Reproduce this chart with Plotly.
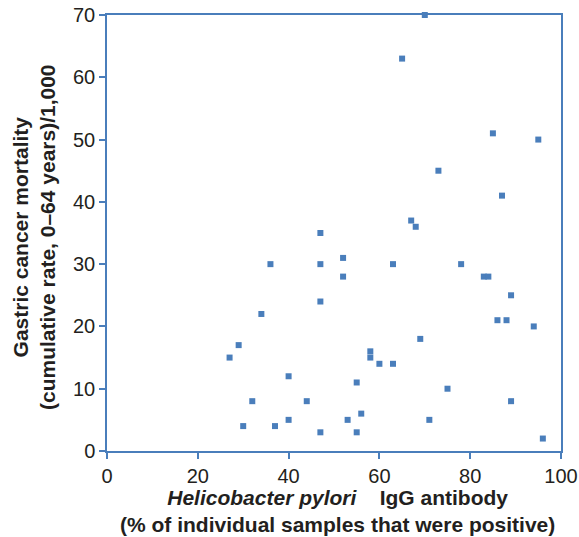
import plotly.graph_objects as go

# H. pylori IgG antibody prevalence (%) and gastric cancer mortality (cumulative rate, 0-64 y)/1,000
hp_positive = [70, 65, 85, 95, 73, 87, 67, 68, 47, 36, 47, 52, 52, 63, 78, 83, 84,
               47, 34, 89, 86, 88, 94, 29, 27, 69, 58, 58, 60, 63, 40, 55, 75,
               32, 44, 89, 40, 53, 71, 56, 30, 37, 47, 55, 96]
mortality = [70, 63, 51, 50, 45, 41, 37, 36, 35, 30, 30, 31, 28, 30, 30, 28, 28,
             24, 22, 25, 21, 21, 20, 17, 15, 18, 16, 15, 14, 14, 12, 11, 10,
             8, 8, 8, 5, 5, 5, 6, 4, 4, 3, 3, 2]

x_ticks = [0, 20, 40, 60, 80, 100]
y_ticks = [0, 10, 20, 30, 40, 50, 60, 70]

x_title = "<b><i>Helicobacter pylori</i>\u00a0\u00a0\u00a0 IgG antibody<br>(% of individual samples that were positive)</b>"
y_title = "<b>Gastric cancer mortality<br>(cumulative rate, 0\u201364 years)/1,000</b>"

BLUE = "#4a7ebb"
TEXT = "#231f20"
FONT = "Liberation Sans, Arial, sans-serif"

fig = go.Figure()
fig.add_trace(go.Scatter(
    x=hp_positive, y=mortality, mode="markers",
    marker=dict(symbol="square", size=6, color=BLUE, line=dict(width=0)),
    showlegend=False, cliponaxis=False,
))

fig.update_layout(
    width=579, height=537,
    margin=dict(l=107, r=18, t=15, b=86, autoexpand=False),
    paper_bgcolor="white", plot_bgcolor="white",
    font=dict(family=FONT, color=TEXT, size=20),
)
axis_common = dict(
    ticks="outside", ticklen=6, tickcolor=BLUE, tickwidth=1.5,
    showline=True, linecolor=BLUE, linewidth=1.5, mirror=True, showgrid=False,
    zeroline=False, tickfont=dict(size=20, color=TEXT), automargin=False,
)
fig.update_xaxes(range=[0, 100], tickvals=x_ticks, **axis_common)
fig.update_yaxes(range=[0, 70], tickvals=y_ticks, **axis_common)

fig.add_annotation(
    text=x_title, xref="paper", yref="paper", x=0.5, y=0,
    xanchor="center", yanchor="top", xshift=3, yshift=-33, showarrow=False,
    font=dict(size=21, color=TEXT, family=FONT),
)
fig.add_annotation(
    text=y_title, xref="paper", yref="paper", x=0, y=0.5, textangle=-90,
    xanchor="center", yanchor="middle", xshift=-73, yshift=-4, showarrow=False,
    font=dict(size=21, color=TEXT, family=FONT),
)

fig.write_html(
    "out.html",
    config={"displayModeBar": False},
    post_script="document.body.style.margin='0';document.body.style.padding='0';",
)
